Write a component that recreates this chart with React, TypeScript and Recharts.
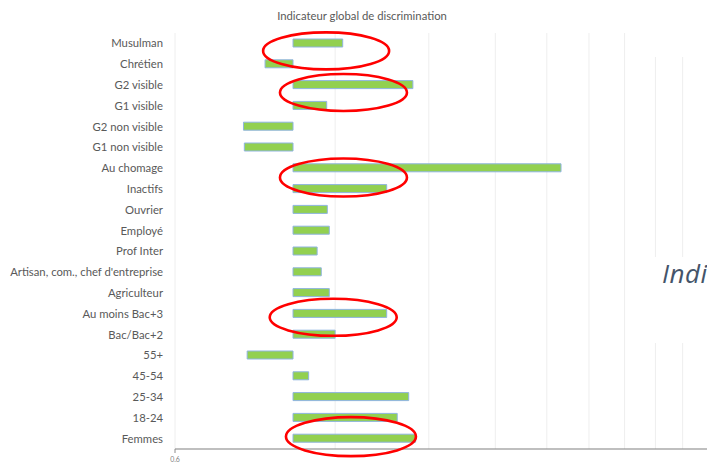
import React from "react";
import { BarChart, Bar, XAxis, YAxis, CartesianGrid, ReferenceDot } from "recharts";

const categories = [
  "Musulman",
  "Chrétien",
  "G2 visible",
  "G1 visible",
  "G2 non visible",
  "G1 non visible",
  "Au chomage",
  "Inactifs",
  "Ouvrier",
  "Employé",
  "Prof Inter",
  "Artisan, com., chef d'entreprise",
  "Agriculteur",
  "Au moins Bac+3",
  "Bac/Bac+2",
  "55+",
  "45-54",
  "25-34",
  "18-24",
  "Femmes",
];

const values = [
  1.24, 0.886, 1.68, 1.157, 0.807, 0.81, 3.19, 1.5, 1.16, 1.17, 1.11, 1.13, 1.17, 1.5, 1.2, 0.82, 1.07, 1.65, 1.57,
  1.7,
];

// the axis crosses at 1 (no discrimination)
const baseline = 1;

// log axis, gridlines every 0.6
const xTicks = [0.6, 1.2, 1.8, 2.4, 3.0, 3.6, 4.2, 4.8, 5.4, 6.0, 6.6];

// red circled rows (hand-drawn on the slide)
const highlights = [
  { category: "Musulman", value: 1.154, dy: 7.5, rx: 63, ry: 18.5 },
  { category: "G2 visible", value: 1.244, dy: 7.5, rx: 63.5, ry: 18.5 },
  { category: "Inactifs", value: 1.244, dy: -11.5, rx: 63.5, ry: 19 },
  { category: "Au moins Bac+3", value: 1.19, dy: 3.5, rx: 63.5, ry: 18.5 },
  { category: "Femmes", value: 1.285, dy: -2, rx: 65, ry: 19.5 },
];

const data = categories.map((name, i) => ({ name, value: values[i] }));

const FONT = "Lato, 'Liberation Sans', sans-serif";

const FirstTickOnly = (props: any) => {
  const { x, y, index } = props;
  if (index !== 0) return null;
  return (
    <g>
      <line x1={x} x2={x} y1={449} y2={453} stroke="#8c8c8c" />
      <text x={x} y={y} dy={5} textAnchor="middle" fontSize={7} fill="#7f7f7f" fontFamily={FONT}>
        0,6
      </text>
    </g>
  );
};

const CategoryTick = (props: any) => {
  const { x, y, payload } = props;
  return (
    <text x={x} y={y} dy={4} textAnchor="end" fontSize={11.3} fill="#595959" fontFamily={FONT}>
      {payload.value}
    </text>
  );
};

const ellipseShape = (dy: number, rx: number, ry: number) => (props: any) => (
  <ellipse cx={props.cx} cy={props.cy + dy} rx={rx} ry={ry} fill="none" stroke="#ff0000" strokeWidth={2.6} />
);

export default function App() {
  return (
    <div
      style={{
        position: "fixed",
        left: 0,
        top: 0,
        width: 707,
        height: 462,
        overflow: "hidden",
        background: "#fff",
      }}
    >
      <div
        style={{
          position: "absolute",
          left: 262,
          width: 200,
          top: 9,
          textAlign: "center",
          fontFamily: FONT,
          fontSize: 11.3,
          color: "#595959",
        }}
      >
        Indicateur global de discrimination
      </div>
      <BarChart
        width={729}
        height={462}
        data={data}
        layout="vertical"
        margin={{ top: 33, right: 0, bottom: 0, left: 0 }}
        barSize={8}
      >
        <CartesianGrid horizontal={false} stroke="#eeeeee" />
        <XAxis
          type="number"
          scale="log"
          domain={[0.6, 6.6]}
          allowDataOverflow
          ticks={xTicks}
          height={13}
          axisLine={{ stroke: "#808080", strokeWidth: 1.2 }}
          tickLine={false}
          tick={<FirstTickOnly />}
        />
        <YAxis
          type="category"
          dataKey="name"
          width={175}
          axisLine={false}
          tickLine={false}
          tickSize={0}
          tickMargin={12}
          interval={0}
          tick={<CategoryTick />}
        />
        <Bar
          dataKey={(d: any) => [baseline, d.value]}
          fill="#92d050"
          stroke="#8fb4e0"
          strokeWidth={1}
          isAnimationActive={false}
        />
        {highlights.map((h) => (
          <ReferenceDot
            key={h.category}
            x={h.value}
            y={h.category}
            r={1}
            ifOverflow="visible"
            shape={ellipseShape(h.dy, h.rx, h.ry)}
          />
        ))}
      </BarChart>
      <div style={{ position: "absolute", left: 650, top: 30, width: 60, height: 27, background: "#fff" }} />
      <div style={{ position: "absolute", left: 650, top: 257, width: 60, height: 86, background: "#fff" }}>
        <span
          style={{
            position: "absolute",
            left: 12,
            top: -2,
            fontFamily: "'Open Sans', sans-serif",
            fontStyle: "italic",
            fontSize: 26,
            letterSpacing: 0.5,
            color: "#44546a",
            whiteSpace: "nowrap",
          }}
        >
          Indicateur
        </span>
      </div>
    </div>
  );
}
